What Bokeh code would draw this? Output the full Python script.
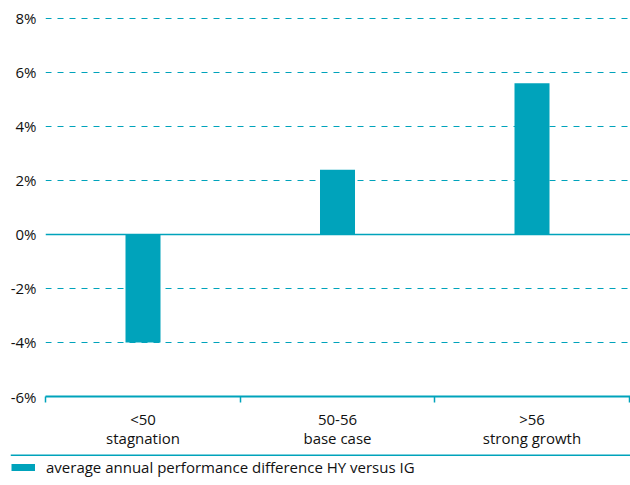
from bokeh.plotting import figure
from bokeh.models import Range1d, FixedTicker, Grid, Legend, LegendItem, Span
from bokeh.layouts import column
from bokeh.embed import file_html
from bokeh.resources import INLINE

# ---- data ----
categories = ["<50\nstagnation", "50-56\nbase case", ">56\nstrong growth"]
values = [-4.0, 2.4, 5.6]
y_ticks = [-6, -4, -2, 0, 2, 4, 6, 8]
y_tick_labels = ["-6%", "-4%", "-2%", "0%", "2%", "4%", "6%", "8%"]
series_name = "average annual performance difference HY versus IG"

TEAL = "#00A3BB"
TEXT = "#111111"
FONT = "Open Sans"
FS = "15px"

x_pos = [i + 0.5 for i in range(len(categories))]
bounds = [i for i in range(len(categories) + 1)]

p = figure(frame_width=585, frame_height=383,
           x_range=Range1d(-0.0013, 3.0064), y_range=Range1d(-6, 8.185),
           output_backend="svg", toolbar_location=None,
           min_border_left=45, min_border_right=0, min_border_top=13, min_border_bottom=58)
p.frame_align = False
p.outline_line_color = None
p.background_fill_color = None
p.border_fill_color = None

p.vbar(x=x_pos, top=values, bottom=0, width=0.18, fill_color=TEAL, line_color=None)

# x axis
xa = p.xaxis[0]
xa.ticker = FixedTicker(ticks=x_pos, minor_ticks=bounds)
xa.major_label_overrides = {x: c for x, c in zip(x_pos, categories)}
xa.major_tick_line_color = None
xa.major_tick_in = 0
xa.major_tick_out = 0
xa.minor_tick_in = 0
xa.minor_tick_out = 6
xa.minor_tick_line_color = TEAL
xa.minor_tick_line_width = 1.5
xa.axis_line_color = TEAL
xa.axis_line_width = 2
xa.major_label_text_font = FONT
xa.major_label_text_font_size = FS
xa.major_label_text_color = TEXT
xa.major_label_text_line_height = 0.95
xa.major_label_standoff = 6

# y axis
ya = p.yaxis[0]
ya.ticker = FixedTicker(ticks=y_ticks)
ya.major_label_overrides = {t: l for t, l in zip(y_ticks, y_tick_labels)}
ya.axis_line_color = None
ya.major_tick_line_color = None
ya.major_tick_in = 0
ya.major_tick_out = 0
ya.minor_tick_line_color = None
ya.major_label_text_font = FONT
ya.major_label_text_font_size = FS
ya.major_label_text_color = TEXT
ya.major_label_standoff = 9

p.xgrid.visible = False
p.ygrid.ticker = FixedTicker(ticks=[t for t in y_ticks if t not in (-6, 0)])
p.ygrid.grid_line_color = TEAL
p.ygrid.grid_line_dash = "6 6"
p.ygrid.grid_line_width = 1.2
p.add_layout(Grid(dimension=1, ticker=FixedTicker(ticks=[0]),
                  grid_line_color=TEAL, grid_line_width=1.5))

# legend strip
p2 = figure(width=630, height=31, x_range=Range1d(0, 1), y_range=Range1d(0, 31),
            output_backend="svg", toolbar_location=None,
            x_axis_location=None, y_axis_location=None,
            min_border_left=10, min_border_right=0, min_border_top=0, min_border_bottom=0)
p2.frame_align = False
p2.outline_line_color = None
p2.grid.visible = False
p2.border_fill_color = None
p2.background_fill_color = None
p2.add_layout(Span(location=30.6, dimension="width", line_color=TEAL, line_width=2))
dummy = p2.line(x=[float("nan")], y=[float("nan")], line_color=TEAL, line_width=7)
leg = Legend(items=[LegendItem(label=series_name, renderers=[dummy])],
             location=(1, 8), glyph_width=24, glyph_height=18, label_height=20,
             label_standoff=11, padding=0, margin=0, spacing=0,
             border_line_color=None, background_fill_alpha=0,
             label_text_font=FONT, label_text_font_size=FS, label_text_color=TEXT)
p2.add_layout(leg)

layout = column(p, p2, spacing=0)
open("out.html", "w").write(file_html(layout, INLINE))
